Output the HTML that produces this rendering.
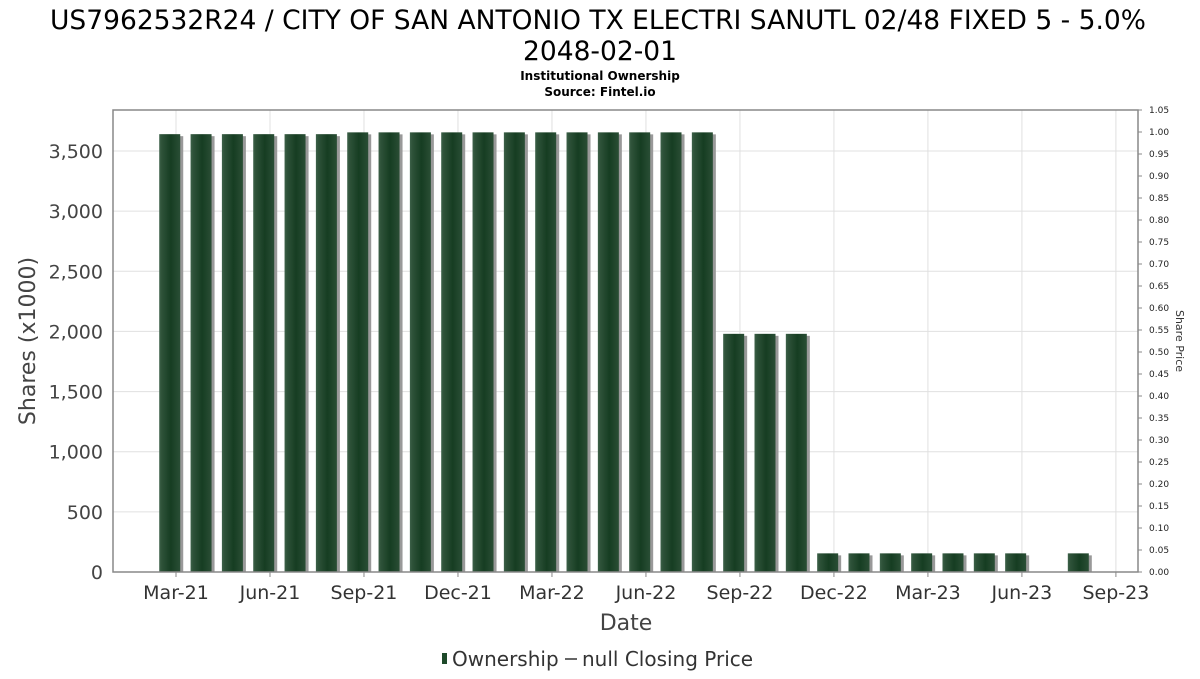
<!DOCTYPE html>
<html><head><meta charset="utf-8"><style>
body{margin:0;background:#fff;font-family:"DejaVu Sans","Liberation Sans",sans-serif;}
</style></head><body>
<svg width="1200" height="675" xmlns="http://www.w3.org/2000/svg">
<defs>
<linearGradient id="bg" x1="0" x2="1" y1="0" y2="0">
<stop offset="0" stop-color="#3d6149"/><stop offset="0.12" stop-color="#2e5239"/><stop offset="0.55" stop-color="#163d22"/><stop offset="1" stop-color="#2a4e35"/>
</linearGradient>
</defs>
<text x="598" y="29" text-anchor="middle" font-size="26.5" fill="#000">US7962532R24 / CITY OF SAN ANTONIO TX ELECTRI SANUTL 02/48 FIXED 5 - 5.0%</text>
<text x="600" y="60" text-anchor="middle" font-size="26.5" fill="#000">2048-02-01</text>
<text x="600" y="80" text-anchor="middle" font-size="12" font-weight="bold">Institutional Ownership</text>
<text x="600" y="96" text-anchor="middle" font-size="12" font-weight="bold">Source: Fintel.io</text>
<g id="grid"></g>
<g id="bars"></g>
<rect x="113" y="110" width="1025" height="462" fill="none" stroke="#888" stroke-width="1.5"/>
<g id="axes"></g>
<text transform="translate(35,341) rotate(-90)" text-anchor="middle" font-size="22" fill="#444">Shares (x1000)</text>
<text transform="translate(1176,341) rotate(90)" text-anchor="middle" font-size="11" fill="#333">Share Price</text>
<text x="626" y="630" text-anchor="middle" font-size="22" fill="#444">Date</text>
<g>
<rect x="442" y="653" width="5" height="11" fill="#1e4a2a"/>
<text x="452" y="666" font-size="20" fill="#333">Ownership</text>
<line x1="565" y1="659" x2="577" y2="659" stroke="#333" stroke-width="1.5"/>
<text x="582" y="666" font-size="20" fill="#333">null Closing Price</text>
</g>
</svg>
<script>
const months=[0,1,2,3,4,5,6,7,8,9,10,11,12,13,14,15,16,17,18,19,20,21,22,23,24,25,26,27,29];
const shares=[3640,3640,3640,3640,3640,3640,3655,3655,3655,3655,3655,3655,3655,3655,3655,3655,3655,3655,1980,1980,1980,155,155,155,155,155,155,155,155];
const yTicks=[0,500,1000,1500,2000,2500,3000,3500];
const y2Ticks=[0,0.05,0.1,0.15,0.2,0.25,0.3,0.35,0.4,0.45,0.5,0.55,0.6,0.65,0.7,0.75,0.8,0.85,0.9,0.95,1.0,1.05];
const xTickLabels=["Mar-21","Jun-21","Sep-21","Dec-21","Mar-22","Jun-22","Sep-22","Dec-22","Mar-23","Jun-23","Sep-23"];
const NS="http://www.w3.org/2000/svg";
const X=m=>176+m*31.33;
const Y=v=>572-v*(421/3500);
const Y2=v=>572-v*(462/1.05);
function mk(t,a,p){const e=document.createElementNS(NS,t);for(const k in a)e.setAttribute(k,a[k]);p.appendChild(e);return e;}
const grid=document.getElementById('grid'),axes=document.getElementById('axes'),bars=document.getElementById('bars');
yTicks.forEach(v=>{
 const l=mk('line',{x1:113,x2:1138,y1:Y(v),y2:Y(v),stroke:'#e0e0e0'},grid);
 
 
 const t=mk('text',{x:103,y:Y(v)+7,'text-anchor':'end','font-size':19,fill:'#444'},axes);
 t.textContent=v.toLocaleString('en-US');
 
 
});
y2Ticks.forEach(v=>{
 const l=mk('line',{x1:1138,x2:1142,y1:Y2(v),y2:Y2(v),stroke:'#888'},axes);
 
 
 const t=mk('text',{x:1149,y:Y2(v)+3,'font-size':9,fill:'#222'},axes);
 t.textContent=v.toFixed(2);
 
 
});
xTickLabels.forEach((s,i)=>{
 const x=X(i*3);
 const g=mk('line',{x1:x,x2:x,y1:110,y2:572,stroke:'#e0e0e0'},grid);
 
 
 const k=mk('line',{x1:x,x2:x,y1:572,y2:577,stroke:'#888'},axes);
 
 
 const t=mk('text',{x:x,y:599,'text-anchor':'middle','font-size':19,fill:'#333'},axes);
 t.textContent=s;
 
 
});
months.forEach((m,i)=>{
 const cx=X(m-0.2),w=21,top=Y(shares[i]);
 const sh=mk('rect',{x:cx-w/2+3,y:top+2,width:w,height:572-top-2,fill:'#999'},bars);
 
 
 const b=mk('rect',{x:cx-w/2,y:top,width:w,height:572-top,fill:'url(#bg)'},bars);
 
 
});
</script>
</body></html>
